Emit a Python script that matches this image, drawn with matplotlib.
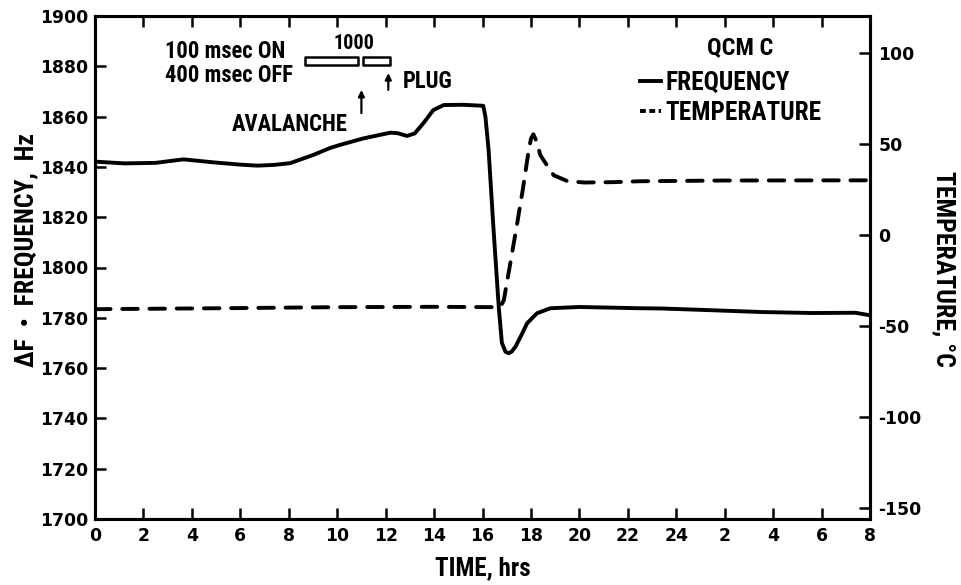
import matplotlib
matplotlib.use("Agg")
import matplotlib.pyplot as plt
from matplotlib.lines import Line2D
from matplotlib.patches import Rectangle

plt.rcParams['font.family'] = ['DejaVu Sans']
plt.rcParams['font.weight'] = 'bold'
COND = ['Roboto Condensed', 'DejaVu Sans']

# ---- data ----
freq_t = [0, 1.2, 2.5, 3.65, 4.9, 6.0, 6.7, 7.4, 8.06, 9.0, 9.7, 10.1, 11.07, 11.7,
          12.2, 12.5, 12.88, 13.2, 13.56, 13.97, 14.4, 15.2, 16.03, 16.12, 16.25,
          16.45, 16.67, 16.8, 16.95, 17.08, 17.2, 17.36, 17.6, 17.84, 18.25, 18.8,
          20.0, 22.5, 23.4, 25.5, 27.5, 29.6, 31.4, 32.0]
freq_v = [1842.1, 1841.4, 1841.6, 1843.0, 1841.8, 1840.9, 1840.5, 1840.8, 1841.5,
          1844.7, 1847.5, 1848.7, 1851.3, 1852.6, 1853.6, 1853.4, 1852.3, 1853.3,
          1857.4, 1862.6, 1864.6, 1864.7, 1864.3, 1860.0, 1847.0, 1816.0, 1784.4,
          1770.0, 1766.5, 1765.9, 1766.5, 1768.5, 1773.0, 1777.8, 1781.8, 1783.8,
          1784.3, 1783.8, 1783.7, 1783.0, 1782.3, 1781.9, 1782.0, 1781.0]

temp_t = [0, 5, 10, 14, 16.5, 16.75, 16.88, 17.1, 17.4, 17.65, 17.9, 18.0, 18.1,
          18.22, 18.39, 18.66, 18.94, 19.5, 20.2, 21.4, 22.5, 26.0, 32.0]
temp_v = [-40.6, -40.1, -39.5, -39.3, -39.5, -39.0, -35.7, -19.0, 4.0, 24.0, 46.0,
          53.0, 55.5, 52.0, 44.0, 38.5, 33.0, 29.8, 29.0, 29.2, 29.7, 30.1, 30.2]

x_ticks = list(range(0, 33, 2))
x_tick_labels = [str(h % 24) if h != 24 else "24" for h in x_ticks]
freq_ticks = list(range(1700, 1901, 20))
temp_ticks = [100, 50, 0, -50, -100, -150]

pulse_on = [(8.68, 10.87), (11.07, 12.19)]   # pulse bars (hrs)
pulse_band = (1880.5, 1883.7)               # Hz extent of bars

# ---- figure ----
W, H = 961, 585
fig = plt.figure(figsize=(W / 100, H / 100), dpi=100)
ax = fig.add_axes([95 / W, 1 - 519 / H, 775 / W, 503 / H])
ax.set_xlim(0, 32)
ax.set_ylim(1700, 1900)

ax2 = ax.twinx()
ax2.set_ylim(-155.9, 120.5)

ax.plot(freq_t, freq_v, color='black', lw=2.8, solid_joinstyle='round',
        solid_capstyle='round', zorder=3)
ax2.plot(temp_t, temp_v, color='black', lw=2.8, dashes=(4.0, 3.0),
         dash_capstyle='round', zorder=3)

for a in (ax, ax2):
    for s in a.spines.values():
        s.set_linewidth(2.2)

tfs = 12.4
ax.set_xticks(x_ticks)
ax.set_xticklabels(x_tick_labels)
ax.set_yticks(freq_ticks)
ax.tick_params(axis='x', direction='in', length=8, width=1.8, top=True,
               labelsize=tfs, pad=6)
ax.tick_params(axis='y', direction='in', length=8, width=1.8, labelsize=tfs, pad=5)
ax2.set_yticks(temp_ticks)
ax2.set_yticklabels([str(v) for v in temp_ticks])
ax2.tick_params(axis='y', direction='in', length=8, width=1.8, labelsize=tfs, pad=6)

ax.set_xlabel("TIME, hrs", fontsize=18, fontweight='bold', family=COND, labelpad=8)
ax.set_ylabel("ΔF  •  FREQUENCY,  Hz", fontsize=18.5, fontweight='bold', family=COND)
ax.yaxis.set_label_coords(-0.0735, (519 - 250) / 503)
ax2.set_ylabel("TEMPERATURE, °C", fontsize=18.5, fontweight='bold', family=COND,
               rotation=270, labelpad=20)
ax2.yaxis.set_label_coords(1.111, (519 - 269) / 503)

afs = 16.3
ax.text(2.9, 1885.7, "100 msec ON", fontsize=afs, va='center', ha='left', family=COND)
ax.text(2.9, 1876.5, "400 msec OFF", fontsize=afs, va='center', ha='left', family=COND)
ax.text(10.7, 1889.0, "1000", fontsize=14.5, va='center', ha='center', family=COND)
for (a0, a1) in pulse_on:
    ax.add_patch(Rectangle((a0, pulse_band[0]), a1 - a0, pulse_band[1] - pulse_band[0],
                           fill=False, lw=1.8, ec='black', joinstyle='round'))
ax.annotate("", xy=(11.0, 1870.6), xytext=(11.0, 1861.4),
            arrowprops=dict(arrowstyle='-|>', lw=1.6, color='black',
                            mutation_scale=9, shrinkA=0, shrinkB=0))
ax.annotate("", xy=(12.11, 1877.3), xytext=(12.11, 1870.6),
            arrowprops=dict(arrowstyle='-|>', lw=1.6, color='black',
                            mutation_scale=9, shrinkA=0, shrinkB=0))
ax.text(12.69, 1873.8, "PLUG", fontsize=afs, va='center', ha='left', family=COND)
ax.text(10.45, 1856.7, "AVALANCHE", fontsize=afs, va='center', ha='right', family=COND)

ax.text(26.65, 1887.3, "QCM C", fontsize=17.5, va='center', ha='center', family=COND)
handles = [Line2D([], [], color='black', lw=2.8),
           Line2D([], [], color='black', lw=2.8, dashes=(1.5, 0.9))]
leg = ax.legend(handles, ["FREQUENCY", "TEMPERATURE"], loc='upper left',
                bbox_to_anchor=(640 / W, 1 - 71 / H), bbox_transform=fig.transFigure,
                frameon=False, handlelength=0.85, handletextpad=0.15,
                labelspacing=0.25, borderpad=0, borderaxespad=0,
                prop={'family': COND, 'weight': 'bold', 'size': 18.2})

fig.savefig("out.png", dpi=100)
